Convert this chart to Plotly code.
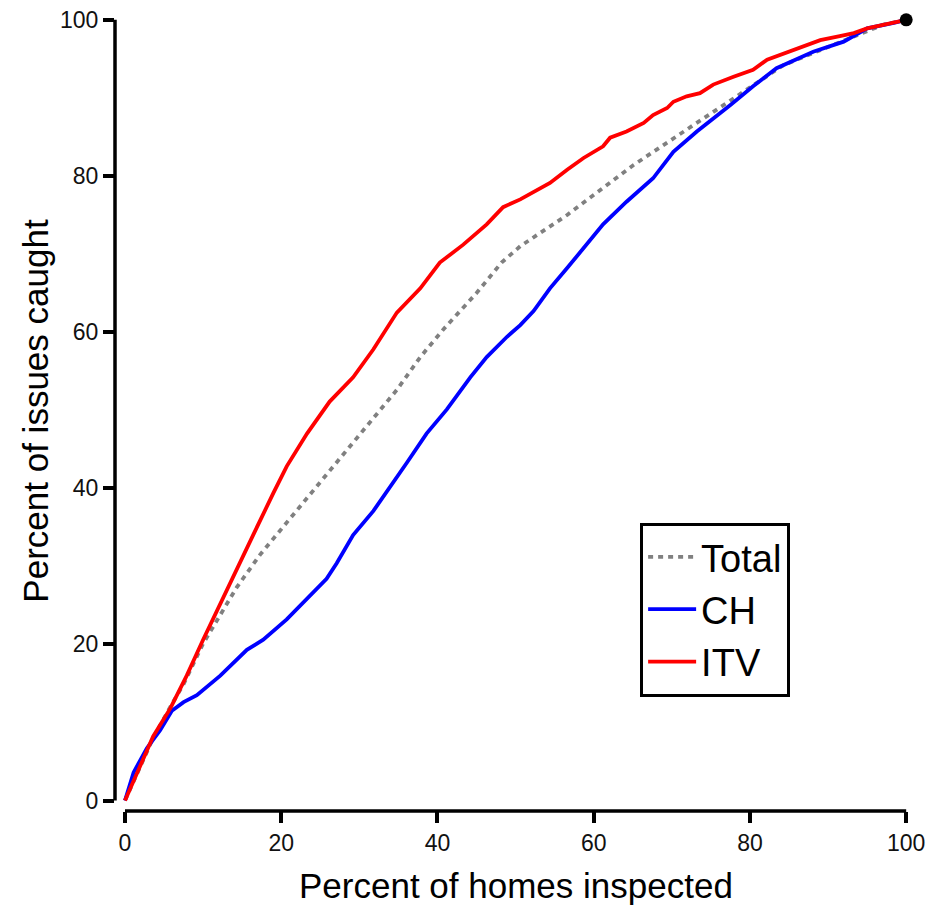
import plotly.graph_objects as go

# ---------------- data ----------------
itv_x = [0, 3.6, 5.8, 7.9, 10.0, 12.2, 14.3, 16.4, 19.0, 20.7, 23.3, 26.2, 29.2, 31.8, 34.8,
         37.8, 40.3, 43.3, 46.3, 48.4, 50.6, 52.3, 54.4, 56.6, 58.7, 61.2, 62.1, 64.2, 66.4,
         67.6, 69.4, 70.2, 71.9, 73.6, 75.3, 77.9, 80.4, 82.2, 84.3, 86.4, 89.0, 91.5, 93.3,
         95.0, 97.1, 100]
itv_y = [0, 8.2, 11.8, 16.0, 20.6, 25.3, 29.7, 34.0, 39.4, 42.8, 47.0, 51.1, 54.2, 57.8, 62.5,
         65.6, 68.9, 71.2, 73.8, 76.0, 77.0, 78.0, 79.1, 80.8, 82.3, 83.8, 84.9, 85.7, 86.8,
         87.8, 88.7, 89.5, 90.2, 90.6, 91.7, 92.7, 93.6, 94.9, 95.7, 96.4, 97.4, 97.9, 98.3,
         98.9, 99.4, 100]

ch_x = [0, 1.1, 2.8, 4.5, 6.0, 7.5, 9.2, 12.2, 15.6, 17.7, 20.7, 23.7, 25.8, 27.1, 29.2, 31.8,
        34.4, 36.1, 38.6, 41.2, 44.2, 46.3, 48.9, 50.6, 52.3, 54.4, 56.6, 61.2, 64.2, 67.6,
        70.2, 73.2, 77.5, 80.4, 83.4, 88.1, 92.0, 95.0, 98.4, 100]
ch_y = [0, 3.6, 6.7, 9.0, 11.5, 12.6, 13.5, 16.0, 19.3, 20.6, 23.2, 26.3, 28.4, 30.4, 34.0, 37.1,
        40.8, 43.3, 47.0, 50.1, 54.2, 56.8, 59.4, 60.9, 62.7, 65.6, 68.2, 73.8, 76.7, 79.7,
        83.1, 85.7, 89.1, 91.5, 93.8, 95.9, 97.2, 98.9, 99.6, 100]

total_x = [0, 3.6, 5.8, 7.5, 10.0, 12.2, 14.3, 17.3, 20.7, 24.1, 27.1, 30.9, 34.8, 37.8, 40.8,
           45.0, 48.2, 50.6, 56.6, 65.1, 71.5, 77.9, 84.3, 90.7, 97.1, 100]
total_y = [0, 8.0, 12.0, 14.9, 20.1, 23.7, 27.3, 31.5, 35.6, 39.7, 43.3, 48.0, 52.6, 56.8, 60.4,
           65.0, 68.9, 71.0, 75.0, 81.4, 85.7, 90.0, 94.2, 96.8, 99.4, 100]

end_x = [100]
end_y = [100]

tick_vals = [0, 20, 40, 60, 80, 100]
tick_text = ["0", "20", "40", "60", "80", "100"]

series_names = ["Total", "CH", "ITV"]

# ---------------- geometry ----------------
W, H = 929, 908
PX = 7.81                 # pixels per data unit (both axes)
X0PX, Y0PX = 125.0, 801.0  # pixel position of data 0 on each axis
PLOT_LEFT, PLOT_BOTTOM = 115.0, 811.5
XMAX, YMAX = 101.0, 101.0
XMIN = (PLOT_LEFT - X0PX) / PX
YMIN = -(PLOT_BOTTOM - Y0PX) / PX
plot_w = (XMAX - XMIN) * PX
plot_h = (YMAX - YMIN) * PX
m_l = PLOT_LEFT
m_r = W - (PLOT_LEFT + plot_w)
m_b = H - PLOT_BOTTOM
m_t = PLOT_BOTTOM - plot_h

FONT = "Liberation Sans, Arial, sans-serif"
LW = 3.5

fig = go.Figure()
fig.add_trace(go.Scatter(x=total_x, y=total_y, mode="lines", name=series_names[0],
                         line=dict(color="#808080", width=3.8, dash="5px,5px")))
fig.add_trace(go.Scatter(x=ch_x, y=ch_y, mode="lines", name=series_names[1],
                         line=dict(color="#0000FF", width=3.8)))
fig.add_trace(go.Scatter(x=itv_x, y=itv_y, mode="lines", name=series_names[2],
                         line=dict(color="#FF0000", width=3.8)))
fig.add_trace(go.Scatter(x=end_x, y=end_y, mode="markers", showlegend=False,
                         marker=dict(color="black", size=13), cliponaxis=False))

axis_common = dict(showgrid=False, zeroline=False, showline=False, automargin=False,
                   ticks="outside", ticklen=11, tickwidth=LW, tickcolor="black",
                   tickvals=tick_vals, ticktext=tick_text,
                   tickfont=dict(family=FONT, size=23, color="#111"))

fig.update_xaxes(range=[XMIN, XMAX], **axis_common)
fig.update_yaxes(range=[YMIN, YMAX], **axis_common)

# axis lines (R-style, only spanning 0..100)
fig.add_shape(type="line", xref="paper", yref="y", x0=0, x1=0, y0=0, y1=100,
              line=dict(color="black", width=LW))
fig.add_shape(type="line", xref="x", yref="paper", x0=0, x1=100, y0=0, y1=0,
              line=dict(color="black", width=LW))

# axis titles
fig.add_annotation(text="Percent of homes inspected", xref="x", yref="paper",
                   x=50, y=-(886 - PLOT_BOTTOM) / plot_h, xanchor="center", yanchor="middle",
                   showarrow=False, font=dict(family=FONT, size=35, color="black"))
fig.add_annotation(text="Percent of issues caught", xref="paper", yref="y",
                   x=-(PLOT_LEFT - 35.5) / plot_w, y=50, xanchor="center", yanchor="middle",
                   textangle=-90, showarrow=False,
                   font=dict(family=FONT, size=35, color="black"))

fig.update_layout(
    width=W, height=H,
    margin=dict(l=m_l, r=m_r, t=m_t, b=m_b, pad=0, autoexpand=False),
    paper_bgcolor="white", plot_bgcolor="white",
    showlegend=True,
    legend=dict(x=(640 - PLOT_LEFT) / plot_w, y=(PLOT_BOTTOM - 523) / plot_h,
                xanchor="left", yanchor="top",
                bordercolor="black", borderwidth=3, bgcolor="white",
                font=dict(family=FONT, size=38, color="black"),
                itemwidth=48, tracegroupgap=0),
)

fig.write_html("out.html")
